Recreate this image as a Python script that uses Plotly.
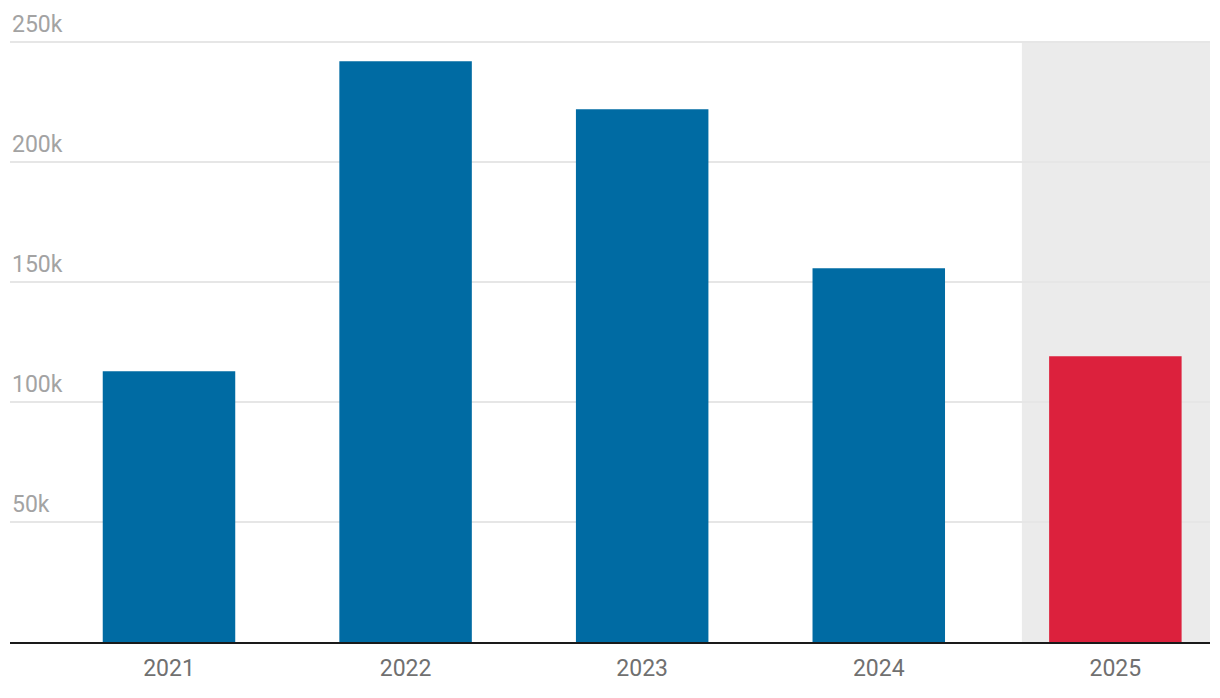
import plotly.graph_objects as go

years = ["2021", "2022", "2023", "2024", "2025"]
values = [112800, 242000, 222000, 155700, 119100]
bar_colors = ["#006ba3", "#006ba3", "#006ba3", "#006ba3", "#dc213d"]
y_tickvals = [50000, 100000, 150000, 200000, 250000]
y_ticktext = ["50k", "100k", "150k", "200k", "250k"]

fig = go.Figure()
fig.add_trace(go.Bar(
    x=years, y=values,
    marker=dict(color=bar_colors, line=dict(width=0)),
    width=0.56,
    hoverinfo="x+y",
))

fig.add_shape(
    type="rect", xref="x", yref="y",
    x0=3.605, x1=4.40, y0=0, y1=249600,
    fillcolor="#ebebeb", line=dict(width=0), layer="below",
)

# page body has an 8px default margin; size and margins compensate for it
fig.update_layout(
    width=1212, height=690,
    margin=dict(l=2, r=10, t=0, b=56),
    paper_bgcolor="white", plot_bgcolor="white",
    font=dict(family="Roboto", size=23),
    showlegend=False,
)
fig.update_xaxes(
    type="category",
    range=[-0.672, 4.40],
    showline=True, linecolor="#1a1a1a", linewidth=2,
    showgrid=False, ticks="",
    ticklabelstandoff=4,
    tickfont=dict(family="Roboto", size=23, color="#707070"),
    fixedrange=True,
)
fig.update_yaxes(
    range=[0, 264167],
    tickvals=y_tickvals, ticktext=y_ticktext,
    ticklabelposition="inside top",
    ticklabelshift=-2,
    ticklabelstandoff=-1,
    showgrid=True, gridcolor="#e6e6e6", gridwidth=2,
    zeroline=False, showline=False, ticks="",
    tickfont=dict(family="Roboto", size=23, color="#a3a3a3"),
    fixedrange=True,
)

fig.write_html("out.html")
